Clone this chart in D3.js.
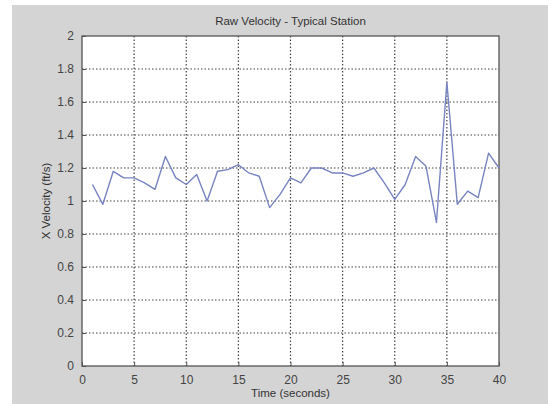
<!DOCTYPE html>
<html>
<head>
<meta charset="utf-8">
<script src="https://cdn.jsdelivr.net/npm/d3@7"></script>
<style>
  body { margin: 0; background: #fff; }
  svg { display: block; }
  .axis text { font-family: "Liberation Sans", Arial, sans-serif; font-size: 12px; fill: #444; }
  .lbl { font-family: "Liberation Sans", Arial, sans-serif; font-size: 11.5px; fill: #333; }
</style>
</head>
<body>
<div id="chart"></div>
<script>
// time in seconds
const times = d3.range(1, 41);
// raw x velocity (ft/s)
const velocity = [
    1.10, 0.98, 1.18, 1.14, 1.14, 1.11, 1.07, 1.27, 1.14, 1.10,
    1.16, 1.00, 1.18, 1.19, 1.22, 1.17, 1.15, 0.96, 1.04, 1.14,
    1.11, 1.20, 1.20, 1.17, 1.17, 1.15, 1.17, 1.20, 1.11, 1.01,
    1.10, 1.27, 1.21, 0.87, 1.72, 0.98, 1.06, 1.02, 1.29, 1.20
];
const xTicks = [0, 5, 10, 15, 20, 25, 30, 35, 40];
const yTicks = [0, 0.2, 0.4, 0.6, 0.8, 1, 1.2, 1.4, 1.6, 1.8, 2];

const W = 548, H = 404;
const margin = {top: 36, right: 49, bottom: 38, left: 82};
const width = W - margin.left - margin.right;
const height = H - margin.top - margin.bottom;

const svg = d3.select("#chart").append("svg")
    .attr("width", W)
    .attr("height", H);

// grey figure background
svg.append("rect")
    .attr("x", 12).attr("y", 5)
    .attr("width", W - 12).attr("height", H - 5)
    .attr("fill", "#d4d4d4");

const g = svg.append("g")
    .attr("transform", `translate(${margin.left},${margin.top})`);

g.append("rect")
    .attr("width", width).attr("height", height)
    .attr("fill", "#fff");

const x = d3.scaleLinear().domain([0, 40]).range([0, width]);
const y = d3.scaleLinear().domain([0, 2]).range([height, 0]);

// dotted grid
g.selectAll(".vgrid")
    .data(xTicks.slice(1, -1))
    .enter().append("line")
    .attr("class", "vgrid")
    .attr("x1", d => x(d)).attr("x2", d => x(d))
    .attr("y1", 0).attr("y2", height)
    .attr("stroke", "#444")
    .attr("stroke-width", 1.2)
    .attr("stroke-dasharray", "1.5,2");

g.selectAll(".hgrid")
    .data(yTicks.slice(1, -1))
    .enter().append("line")
    .attr("class", "hgrid")
    .attr("x1", 0).attr("x2", width)
    .attr("y1", d => y(d)).attr("y2", d => y(d))
    .attr("stroke", "#444")
    .attr("stroke-width", 1.2)
    .attr("stroke-dasharray", "1.5,2");

// axes (ticks inside, matlab style)
const xAxis = d3.axisBottom(x).tickValues(xTicks).tickSize(-4).tickPadding(9).tickFormat(d3.format("d"));
const yAxis = d3.axisLeft(y).tickValues(yTicks).tickSize(-4).tickPadding(8).tickFormat(d => d);

g.append("g")
    .attr("class", "x-axis axis")
    .attr("transform", `translate(0,${height})`)
    .call(xAxis);

g.append("g")
    .attr("class", "y-axis axis")
    .call(yAxis);

g.selectAll(".axis .domain").remove();
g.selectAll(".axis line").attr("stroke", "#555");

// box
g.append("rect")
    .attr("width", width).attr("height", height)
    .attr("fill", "none")
    .attr("stroke", "#555")
    .attr("stroke-width", 1.3);

// data line
const line = d3.line()
    .x((d, i) => x(times[i]))
    .y(d => y(d));

g.append("path")
    .datum(velocity)
    .attr("d", line)
    .attr("fill", "none")
    .attr("stroke", "#7884c2")
    .attr("stroke-width", 1.4)
    .attr("stroke-linejoin", "round");

// labels
svg.append("text")
    .attr("class", "lbl")
    .attr("x", margin.left + width / 2).attr("y", 25)
    .attr("text-anchor", "middle")
    .text("Raw Velocity - Typical Station");

svg.append("text")
    .attr("class", "lbl")
    .attr("x", margin.left + width / 2).attr("y", 397)
    .attr("text-anchor", "middle")
    .text("Time (seconds)");

svg.append("text")
    .attr("class", "lbl")
    .attr("transform", `translate(50,${margin.top + height / 2}) rotate(-90)`)
    .attr("text-anchor", "middle")
    .text("X Velocity (ft/s)");
</script>
</body>
</html>
